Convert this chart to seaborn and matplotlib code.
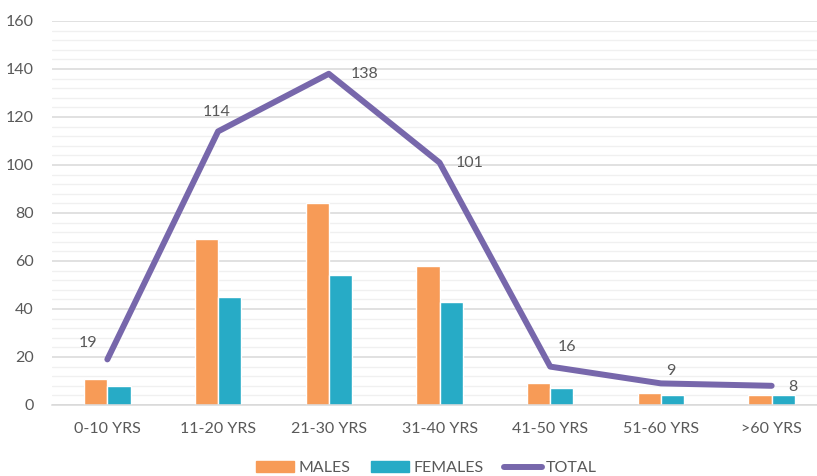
import numpy as np
import pandas as pd
import seaborn as sns
import matplotlib.pyplot as plt
from matplotlib.ticker import MultipleLocator, FixedLocator
from matplotlib.patches import Patch
from matplotlib.lines import Line2D

# data
age_groups = ['0-10 YRS', '11-20 YRS', '21-30 YRS', '31-40 YRS', '41-50 YRS', '51-60 YRS', '>60 YRS']
males = [11, 69, 84, 58, 9, 5, 4]
females = [8, 45, 54, 43, 7, 4, 4]
total = [19, 114, 138, 101, 16, 9, 8]

# label offsets for the TOTAL line (points)
label_offsets = [(-14, 12), (-1, 14), (26, 0), (22, 0), (12, 14), (7, 9), (15, -1)]

ORANGE = '#F79B57'
TEAL = '#27ABC6'
PURPLE = '#7767AB'
TXT = '#595959'

sns.set_style('white')
plt.rcParams['font.family'] = ['Lato', 'DejaVu Sans']

df = pd.DataFrame({
    'group': age_groups * 2,
    'count': males + females,
    'sex': ['MALES'] * len(age_groups) + ['FEMALES'] * len(age_groups),
})

fig = plt.figure(figsize=(8.17, 4.76), dpi=100)
ax = fig.add_axes([52 / 817, 71 / 476, 775 / 817, 384 / 476])

sns.barplot(data=df, x='group', y='count', hue='sex', order=age_groups,
            palette={'MALES': ORANGE, 'FEMALES': TEAL}, width=0.42,
            saturation=1, legend=False, ax=ax, zorder=2)
sns.lineplot(x=np.arange(len(age_groups)), y=total, color=PURPLE, linewidth=4.3,
             ax=ax, zorder=3, solid_capstyle='round', solid_joinstyle='round')

for i, (v, off) in enumerate(zip(total, label_offsets)):
    ax.annotate(str(v), (i, v), xytext=off, textcoords='offset points',
                ha='center', va='center', fontsize=11.5, color=TXT)

ax.set_ylim(0, 160)
ax.set_xlim(-0.5, len(age_groups) - 0.5)
ax.yaxis.set_major_locator(MultipleLocator(20))
ax.yaxis.set_minor_locator(MultipleLocator(4))
ax.grid(axis='y', which='major', color='#D9D9D9', linewidth=1.1, zorder=0)
ax.grid(axis='y', which='minor', color='#F0F0F0', linewidth=1.0, zorder=0)
ax.set_axisbelow(True)

ax.xaxis.set_minor_locator(FixedLocator(np.arange(-0.5, len(age_groups), 1)))
ax.tick_params(axis='x', which='major', length=0, pad=12, labelsize=11.5, labelcolor=TXT)
ax.tick_params(axis='x', which='minor', length=5, color='#D9D9D9', width=1)
ax.tick_params(axis='y', which='both', length=0, pad=13, labelsize=11.5, labelcolor=TXT)

for s in ['left', 'right', 'top']:
    ax.spines[s].set_visible(False)
ax.spines['bottom'].set_color('#D9D9D9')
ax.spines['bottom'].set_linewidth(1.1)
ax.set_xlabel('')
ax.set_ylabel('')

handles = [Patch(color=ORANGE), Patch(color=TEAL),
           Line2D([0], [0], color=PURPLE, linewidth=4.3, solid_capstyle='round')]
fig.legend(handles, ['MALES', 'FEMALES', 'TOTAL'], loc='center', bbox_to_anchor=(0.522, 0.016),
           ncol=3, frameon=False, fontsize=11.5, labelcolor=TXT, handlelength=2.4,
           handleheight=0.7, handletextpad=0.25, columnspacing=1.3)

fig.savefig('out.png', dpi=100)
